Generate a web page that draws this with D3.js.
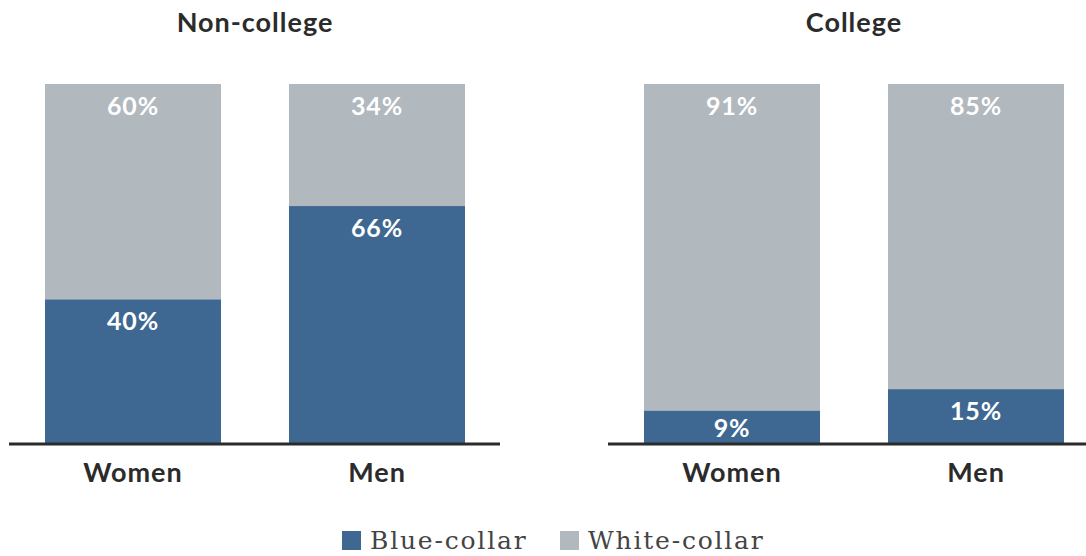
<!DOCTYPE html>
<html>
<head>
<meta charset="utf-8">
<script src="https://cdn.jsdelivr.net/npm/d3@7"></script>
<style>
  body { margin: 0; background: #fff; }
  text { font-family: Lato, "Open Sans", sans-serif; }
</style>
</head>
<body>
<div id="chart-area"></div>
<script>
// data
var panels = ["Non-college", "College"];
var groups = ["Women", "Men"];
var blueCollar = [[40, 66], [9, 15]];
var whiteCollar = [[60, 34], [91, 85]];
var seriesNames = ["Blue-collar", "White-collar"];

var width = 1086, height = 556;
var blue = "#3e6891", grey = "#b1b8be", ink = "#2b2b2b";

var svg = d3.select("#chart-area")
    .append("svg")
        .attr("width", width)
        .attr("height", height);

// y is shared by both panels
var y = d3.scaleLinear()
    .domain([0, 100])
    .range([443, 84]);

// horizontal extent of bars and baseline per panel
var barRange = [[45, 465], [644, 1064]];
var lineRange = [[9, 500], [608, 1086]];

panels.forEach(function(name, p) {
    var x = d3.scaleBand()
        .domain(groups)
        .range(barRange[p])
        .paddingInner(0.2787)
        .paddingOuter(0);

    var g = svg.append("g");

    // title
    g.append("text")
        .attr("x", (barRange[p][0] + barRange[p][1]) / 2)
        .attr("y", 32)
        .attr("text-anchor", "middle")
        .attr("font-size", "27px")
        .attr("font-weight", 700)
        .attr("letter-spacing", "1px")
        .attr("fill", ink)
        .text(name);

    groups.forEach(function(grp, i) {
        var b = blueCollar[p][i], w = whiteCollar[p][i];

        // white-collar on top
        g.append("rect")
            .attr("x", x(grp))
            .attr("width", x.bandwidth())
            .attr("y", y(b + w))
            .attr("height", y(b) - y(b + w))
            .attr("fill", grey);

        g.append("rect")
            .attr("x", x(grp))
            .attr("width", x.bandwidth())
            .attr("y", y(b))
            .attr("height", y(0) - y(b))
            .attr("fill", blue);

        g.append("text")
            .attr("x", x(grp) + x.bandwidth() / 2)
            .attr("y", y(b + w) + 31)
            .attr("text-anchor", "middle")
            .attr("font-size", "25px")
            .attr("font-weight", 700)
            .attr("letter-spacing", "0.8px")
            .attr("fill", "#fff")
            .text(w + "%");

        // small segments: keep label inside the bar
        g.append("text")
            .attr("x", x(grp) + x.bandwidth() / 2)
            .attr("y", Math.min(y(b) + 31, y(0) - 6))
            .attr("text-anchor", "middle")
            .attr("font-size", "25px")
            .attr("font-weight", 700)
            .attr("letter-spacing", "0.8px")
            .attr("fill", "#fff")
            .text(b + "%");

        // category label
        g.append("text")
            .attr("x", x(grp) + x.bandwidth() / 2)
            .attr("y", 482)
            .attr("text-anchor", "middle")
            .attr("font-size", "27px")
            .attr("font-weight", 700)
            .attr("letter-spacing", "1px")
            .attr("fill", ink)
            .text(grp);
    });

    // baseline
    g.append("line")
        .attr("x1", lineRange[p][0])
        .attr("x2", lineRange[p][1])
        .attr("y1", 444)
        .attr("y2", 444)
        .attr("stroke", ink)
        .attr("stroke-width", 3);
});

// legend
var legendX = [342, 560];
var legendColor = d3.scaleOrdinal().domain(seriesNames).range([blue, grey]);
var legend = svg.selectAll(".legend")
    .data(seriesNames)
    .enter().append("g")
        .attr("class", "legend")
        .attr("transform", function(d, i) { return "translate(" + legendX[i] + ",531)"; });
legend.append("rect")
    .attr("width", 19)
    .attr("height", 19)
    .attr("fill", function(d) { return legendColor(d); });
legend.append("text")
    .attr("x", 28)
    .attr("y", 18)
    .attr("font-size", "25px")
    .attr("letter-spacing", "1.8px")
    .style("font-family", "'DejaVu Serif', serif")
    .attr("fill", "#444")
    .text(function(d) { return d; });
</script>
</body>
</html>
